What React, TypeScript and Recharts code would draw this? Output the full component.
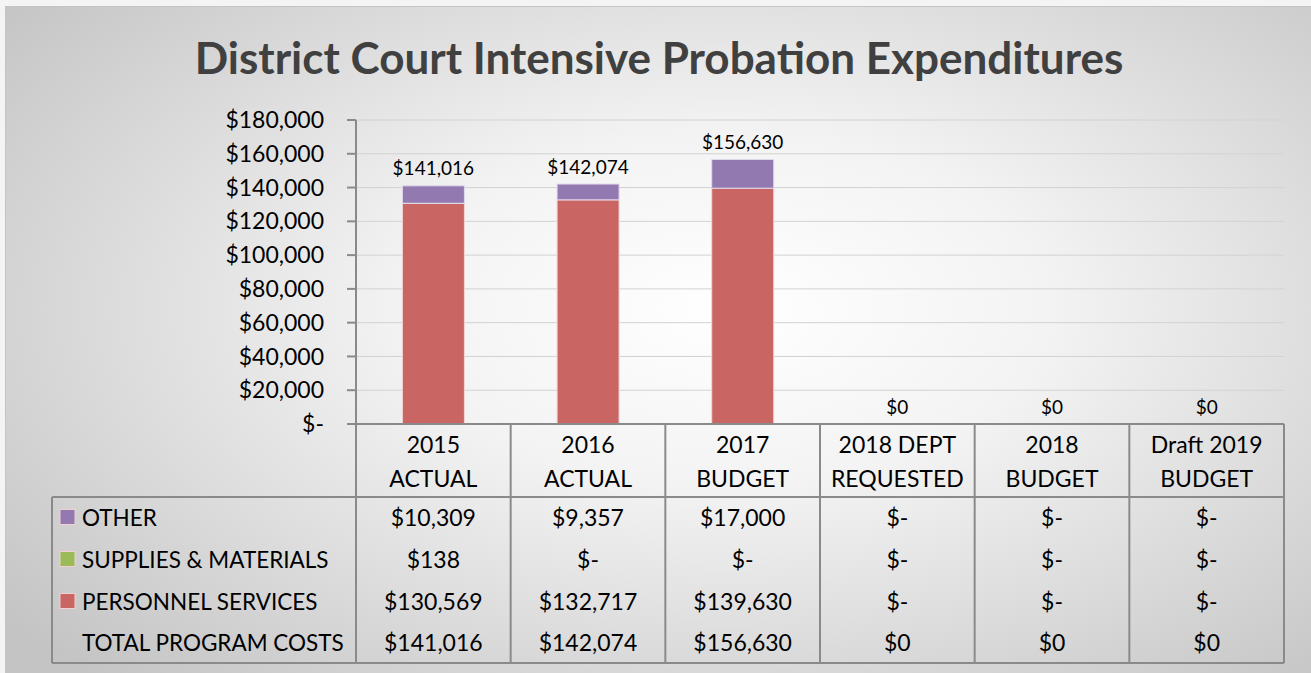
import { ComposedChart, Bar, Line, XAxis, YAxis, CartesianGrid } from 'recharts';

const categories = ['2015 ACTUAL', '2016 ACTUAL', '2017 BUDGET', '2018 DEPT REQUESTED', '2018 BUDGET', 'Draft 2019 BUDGET'];
const headerTop = ['2015', '2016', '2017', '2018 DEPT', '2018', 'Draft 2019'];
const headerBottom = ['ACTUAL', 'ACTUAL', 'BUDGET', 'REQUESTED', 'BUDGET', 'BUDGET'];

const other = [10309, 9357, 17000, 0, 0, 0];
const supplies = [138, 0, 0, 0, 0, 0];
const personnel = [130569, 132717, 139630, 0, 0, 0];
const totals = [141016, 142074, 156630, 0, 0, 0];

const yTicks = [0, 20000, 40000, 60000, 80000, 100000, 120000, 140000, 160000, 180000];

const COLORS = { other: '#9279b0', supplies: '#9bbb59', personnel: '#c96664' };

const rows = [
  { label: 'OTHER', color: COLORS.other, values: other, zero: '$-' },
  { label: 'SUPPLIES & MATERIALS', color: COLORS.supplies, values: supplies, zero: '$-' },
  { label: 'PERSONNEL SERVICES', color: COLORS.personnel, values: personnel, zero: '$-' },
  { label: 'TOTAL PROGRAM COSTS', color: null, values: totals, zero: '$0' },
];

const data = categories.map((name, i) => ({
  name,
  personnel: personnel[i],
  supplies: supplies[i],
  other: other[i],
  total: totals[i],
}));

const W = 1311;
const H = 673;
const MARGIN = { top: 120, right: 27, bottom: 10, left: 0 };
const Y_W = 356;
const X_H = 239;
const COL_W = (W - MARGIN.right - MARGIN.left - Y_W) / categories.length;
const FONT = 'Lato, "Open Sans", sans-serif';
const LINE = '#8a8a8a';

const money = (v: number) => '$' + v.toLocaleString('en-US');
const yFmt = (v: number) => (v === 0 ? '$-' : money(v));

// header + value cells for one column, the row labels drawn with the first one
function TableTick(props: any) {
  const { x, y, payload } = props;
  const i = payload.index;
  const half = COL_W / 2;
  const rowY = [93, 135, 177, 218];
  const tableBottom = 239;
  const left = x - half;
  return (
    <g fontFamily={FONT} fontSize={23} fill="#000">
      <text x={x} y={y + 20} textAnchor="middle" dominantBaseline="central">{headerTop[i]}</text>
      <text x={x} y={y + 54} textAnchor="middle" dominantBaseline="central">{headerBottom[i]}</text>
      {rows.map((r, k) => (
        <text key={k} x={x} y={y + rowY[k]} textAnchor="middle" dominantBaseline="central">
          {r.values[i] === 0 ? r.zero : money(r.values[i])}
        </text>
      ))}
      <line x1={x + half} x2={x + half} y1={y} y2={y + tableBottom} stroke={LINE} strokeWidth={2} />
      {i === 0 && (
        <g>
          <line x1={left} x2={left} y1={y} y2={y + tableBottom} stroke={LINE} strokeWidth={2} />
          <line x1={52} x2={left + COL_W * categories.length} y1={y + 73} y2={y + 73} stroke={LINE} strokeWidth={2} />
          <line x1={52} x2={left + COL_W * categories.length} y1={y + tableBottom} y2={y + tableBottom} stroke={LINE} strokeWidth={2} />
          <line x1={52} x2={52} y1={y + 73} y2={y + tableBottom} stroke={LINE} strokeWidth={2} />
          {rows.map((r, k) => (
            <g key={k}>
              {r.color && (
                <rect x={60} y={y + rowY[k] - 7.5} width={15} height={15} fill={r.color} stroke="#f0d0d0" strokeWidth={1} />
              )}
              <text x={82} y={y + rowY[k]} textAnchor="start" dominantBaseline="central" fontSize={22.5}>{r.label}</text>
            </g>
          ))}
        </g>
      )}
    </g>
  );
}

function TotalLabel(props: any) {
  const { x, y, index } = props;
  return (
    <text x={x} y={y - 18} textAnchor="middle" dominantBaseline="central" fontFamily={FONT} fontSize={19} fill="#000">
      {money(totals[index])}
    </text>
  );
}

export default function App() {
  return (
    <div style={{ position: 'absolute', left: 0, top: 0, width: W, height: H, overflow: 'hidden', background: '#f4f4f4' }}>
      <div
        style={{
          position: 'absolute',
          left: 5,
          top: 6,
          width: W,
          height: H,
          border: '1px solid #c4c4c4',
          background: 'radial-gradient(ellipse 70% 75% at 55% 45%, #ffffff 0%, #f3f3f3 35%, #c4c4c4 100%)',
        }}
      />
      <div
        style={{
          position: 'absolute',
          left: 0,
          top: 29,
          width: 1318,
          textAlign: 'center',
          fontFamily: FONT,
          fontWeight: 700,
          fontSize: 44,
          color: '#404040',
          lineHeight: '56px',
        }}
      >
        District Court Intensive Probation Expenditures
      </div>
      <div style={{ position: 'absolute', left: 0, top: 0 }}>
        <ComposedChart width={W} height={H} data={data} margin={MARGIN} barCategoryGap="30%">
          <CartesianGrid vertical={false} stroke="#d2d2d2" />
          <YAxis
            width={Y_W}
            domain={[0, 180000]}
            ticks={yTicks}
            tickFormatter={yFmt}
            axisLine={{ stroke: LINE, strokeWidth: 2 }}
            tickLine={{ stroke: LINE, strokeWidth: 2 }}
            tickSize={9}
            tickMargin={23}
            tick={{ fill: '#000', fontSize: 23, fontFamily: FONT }}
          />
          <XAxis
            dataKey="name"
            height={X_H}
            interval={0}
            tickSize={0}
            tickMargin={0}
            tickLine={false}
            axisLine={{ stroke: LINE, strokeWidth: 2 }}
            tick={<TableTick />}
          />
          <Bar dataKey="personnel" stackId="a" fill={COLORS.personnel} stroke="#f2d6d6" strokeWidth={1} isAnimationActive={false} />
          <Bar dataKey="supplies" stackId="a" fill={COLORS.supplies} stroke="#e6f0d6" strokeWidth={1} isAnimationActive={false} />
          <Bar dataKey="other" stackId="a" fill={COLORS.other} stroke="#e2d8ee" strokeWidth={1} isAnimationActive={false} />
          <Line
            dataKey="total"
            stroke="none"
            dot={false}
            activeDot={false}
            legendType="none"
            label={<TotalLabel />}
            isAnimationActive={false}
          />
        </ComposedChart>
      </div>
    </div>
  );
}
